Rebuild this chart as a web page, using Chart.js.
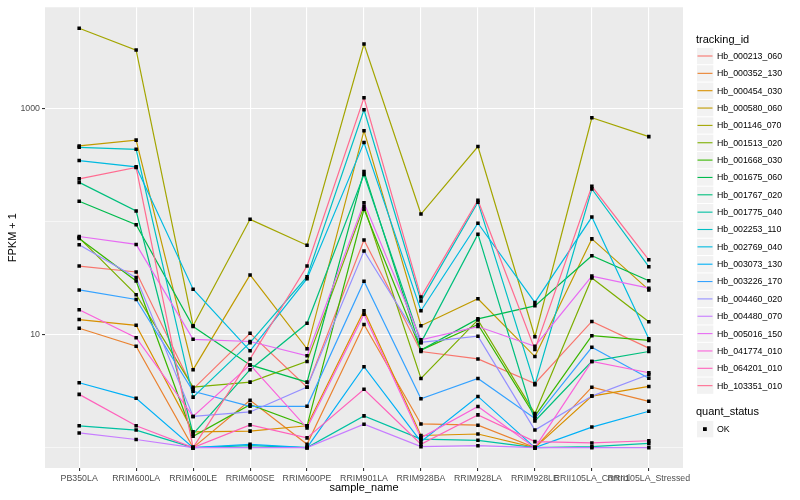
<!DOCTYPE html>
<html>
<head>
<meta charset="utf-8">
<title>FPKM by sample</title>
<script src="https://cdn.jsdelivr.net/npm/chart.js"></script>
<style>
  body { margin: 0; background: #fff; }
</style>
</head>
<body>
<canvas id="chart1" width="800" height="500"></canvas>
<script>
// x categories and y ticks
const sampleNames = ['PB350LA', 'RRIM600LA', 'RRIM600LE', 'RRIM600SE', 'RRIM600PE', 'RRIM901LA',
  'RRIM928BA', 'RRIM928LA', 'RRIM928LE', 'RRII105LA_Control', 'RRII105LA_Stressed'];
const yTicks = [1, 10, 100, 1000];
const yLabelled = [10, 1000];

// FPKM + 1, one value per sample
const Hb_000213_060 = [40.5, 35.9, 3.3, 10.3, 3.43, 69, 7.1, 6.1, 3.7, 13.1, 7.6];
const Hb_000352_130 = [11.4, 7.9, 1.0, 2.62, 1.07, 12.3, 1.62, 1.58, 1.0, 3.43, 2.57];
const Hb_000454_030 = [13.6, 12.1, 1.38, 1.4, 1.56, 16.3, 1.28, 1.32, 1.0, 2.86, 3.48];
const Hb_000580_060 = [469, 528, 4.9, 33.8, 7.5, 640, 12.0, 20.8, 6.4, 70.5, 24.9];
const Hb_001146_070 = [5170, 3310, 12.0, 105, 62, 3740, 117, 463, 9.6, 833, 567];
const Hb_001513_020 = [72, 22.6, 3.43, 3.8, 5.8, 137, 4.1, 13.5, 2.0, 31.8, 13];
const Hb_001668_030 = [71, 29.9, 1.26, 2.4, 1.56, 129, 7.3, 12.3, 1.9, 9.8, 8.9];
const Hb_001675_060 = [152, 94, 11.8, 5.4, 3.8, 279, 7.3, 13.8, 18, 50, 30];
const Hb_001767_020 = [223, 124.5, 1.32, 4.9, 12.6, 262, 8.5, 77.6, 1.72, 5.8, 7.1];
const Hb_001775_040 = [1.56, 1.43, 1.0, 1.04, 1.0, 1.91, 1.19, 1.16, 1.0, 1.02, 1.09];
const Hb_002253_110 = [456, 438, 2.8, 8.5, 32.6, 980, 19.9, 149, 3.6, 195, 40];
const Hb_002769_040 = [348, 306, 25.3, 7.2, 31.3, 502, 16.3, 97, 19.3, 110, 9.2];
const Hb_003073_130 = [3.75, 2.73, 1.0, 1.07, 1.0, 5.2, 1.13, 2.84, 1.0, 1.52, 2.1];
const Hb_003226_170 = [24.9, 20.5, 3.15, 2.32, 2.32, 29.7, 2.71, 4.1, 1.81, 7.73, 4.12];
const Hb_004460_020 = [62.5, 32, 1.89, 2.07, 3.43, 55, 8.55, 9.7, 1.43, 2.86, 4.44];
const Hb_004480_070 = [1.35, 1.18, 1.0, 1.0, 1.0, 1.61, 1.02, 1.04, 1.0, 1.0, 1.0];
const Hb_005016_150 = [74, 63, 9.1, 8.7, 6.5, 147, 9.0, 11.8, 7.9, 33, 25.8];
const Hb_041774_010 = [16.6, 9.4, 1.89, 5.4, 1.49, 15.2, 1.22, 2.31, 1.0, 5.8, 4.6];
const Hb_064201_010 = [2.96, 1.56, 1.0, 1.59, 1.22, 3.28, 1.07, 1.95, 1.13, 1.1, 1.15];
const Hb_103351_010 = [240, 302, 1.0, 6.1, 40.5, 1250, 21.6, 155, 7.4, 206, 46];

const trackingIds = ['Hb_000213_060', 'Hb_000352_130', 'Hb_000454_030', 'Hb_000580_060', 'Hb_001146_070',
  'Hb_001513_020', 'Hb_001668_030', 'Hb_001675_060', 'Hb_001767_020', 'Hb_001775_040', 'Hb_002253_110',
  'Hb_002769_040', 'Hb_003073_130', 'Hb_003226_170', 'Hb_004460_020', 'Hb_004480_070', 'Hb_005016_150',
  'Hb_041774_010', 'Hb_064201_010', 'Hb_103351_010'];
const seriesValues = [Hb_000213_060, Hb_000352_130, Hb_000454_030, Hb_000580_060, Hb_001146_070,
  Hb_001513_020, Hb_001668_030, Hb_001675_060, Hb_001767_020, Hb_001775_040, Hb_002253_110,
  Hb_002769_040, Hb_003073_130, Hb_003226_170, Hb_004460_020, Hb_004480_070, Hb_005016_150,
  Hb_041774_010, Hb_064201_010, Hb_103351_010];

// ggplot default hue palette, 20 colours
const colours = ['#F8766D', '#EA8331', '#D89000', '#C09B00', '#A3A500', '#7CAE00', '#39B600', '#00BB4E',
  '#00BF7D', '#00C1A3', '#00BFC4', '#00BAE0', '#00B0F6', '#35A2FF', '#9590FF', '#C77CFF', '#E76BF3',
  '#FA62DB', '#FF62BC', '#FF6C91'];

const family = '"Liberation Sans", Arial, sans-serif';

const lineSets = seriesValues.map((vals, k) => ({
  label: trackingIds[k],
  data: vals.map((v, i) => ({x: i, y: v})),
  borderColor: colours[k],
  borderWidth: 1.2,
  pointRadius: 0,
  fill: false,
  tension: 0,
  order: 20 - k
}));
const pointSet = {
  label: 'OK',
  data: seriesValues.flatMap(vals => vals.map((v, i) => ({x: i, y: v}))),
  showLine: false,
  pointStyle: 'rect',
  pointRadius: 2.5,
  pointBackgroundColor: '#000',
  pointBorderWidth: 0,
  order: 0
};

const panel = {
  id: 'panel',
  beforeDraw(chart) {
    const {ctx, chartArea: a} = chart;
    ctx.save();
    ctx.fillStyle = '#ebebeb';
    ctx.fillRect(a.left, a.top, a.right - a.left, a.bottom - a.top);
    ctx.restore();
  }
};

// ggplot-style legend on the right
const sideLegend = {
  id: 'sideLegend',
  afterDraw(chart) {
    const ctx = chart.ctx;
    ctx.save();
    ctx.textBaseline = 'middle';
    ctx.textAlign = 'left';
    ctx.fillStyle = '#000';
    ctx.font = '11px ' + family;
    ctx.fillText('tracking_id', 696, 40);
    ctx.font = '8.8px ' + family;
    trackingIds.forEach((id, k) => {
      const cy = 56 + k * 17.35;
      ctx.fillStyle = '#f2f2f2';
      ctx.fillRect(697, cy - 8.1, 16.3, 16.3);
      ctx.strokeStyle = colours[k];
      ctx.lineWidth = 1.1;
      ctx.beginPath();
      ctx.moveTo(697.5, cy);
      ctx.lineTo(712.5, cy);
      ctx.stroke();
      ctx.fillStyle = '#000';
      ctx.fillText(id, 717, cy + 0.5);
    });
    ctx.font = '11px ' + family;
    ctx.fillText('quant_status', 696, 412);
    ctx.fillStyle = '#f2f2f2';
    ctx.fillRect(697, 421, 16.3, 16.3);
    ctx.fillStyle = '#000';
    ctx.fillRect(703, 427.2, 3.8, 3.8);
    ctx.font = '8.8px ' + family;
    ctx.fillText('OK', 717, 429.5);
    ctx.restore();
  }
};

const isMajor = c => c.tick && yLabelled.includes(c.tick.value);

chart1 = new Chart(document.getElementById('chart1'), {
  type: 'line',
  data: { datasets: lineSets.concat([pointSet]) },
  plugins: [panel, sideLegend],
  options: {
    responsive: false,
    animation: false,
    layout: { padding: { left: 0, right: 117, top: 5, bottom: 0 } },
    plugins: { legend: { display: false }, tooltip: { enabled: false } },
    scales: {
      x: {
        type: 'linear', min: -0.6, max: 10.6, bounds: 'data',
        afterBuildTicks: s => { s.ticks = sampleNames.map((n, i) => ({value: i})); },
        afterFit: s => { s.height = 32; },
        grid: { color: '#fff', lineWidth: 1.1, tickLength: 3, tickColor: '#333', tickWidth: 1.1 },
        border: { display: false },
        ticks: {
          callback: v => sampleNames[v], autoSkip: false, maxRotation: 0, padding: 2,
          color: '#4d4d4d', font: { family: family, size: 8.8 }
        },
        title: { display: true, text: 'sample_name', color: '#000',
          font: { family: family, size: 11 }, padding: { top: 0, bottom: 5.4 } }
      },
      y: {
        type: 'logarithmic', min: 0.66, max: 7920, bounds: 'data',
        afterBuildTicks: s => { s.ticks = yTicks.map(v => ({value: v})); },
        afterFit: s => { s.width = 45; },
        grid: {
          color: '#fff',
          lineWidth: c => isMajor(c) ? 1.1 : 0.55,
          tickLength: 3,
          tickColor: c => isMajor(c) ? '#333' : 'rgba(0,0,0,0)',
          tickWidth: 1.1
        },
        border: { display: false },
        ticks: {
          callback: v => yLabelled.includes(v) ? String(v) : '',
          padding: 2, color: '#4d4d4d', font: { family: family, size: 8.8 }
        },
        title: { display: true, text: 'FPKM + 1', color: '#000',
          font: { family: family, size: 11 }, padding: { top: 6, bottom: 0 } }
      }
    }
  }
});
</script>
</body>
</html>
